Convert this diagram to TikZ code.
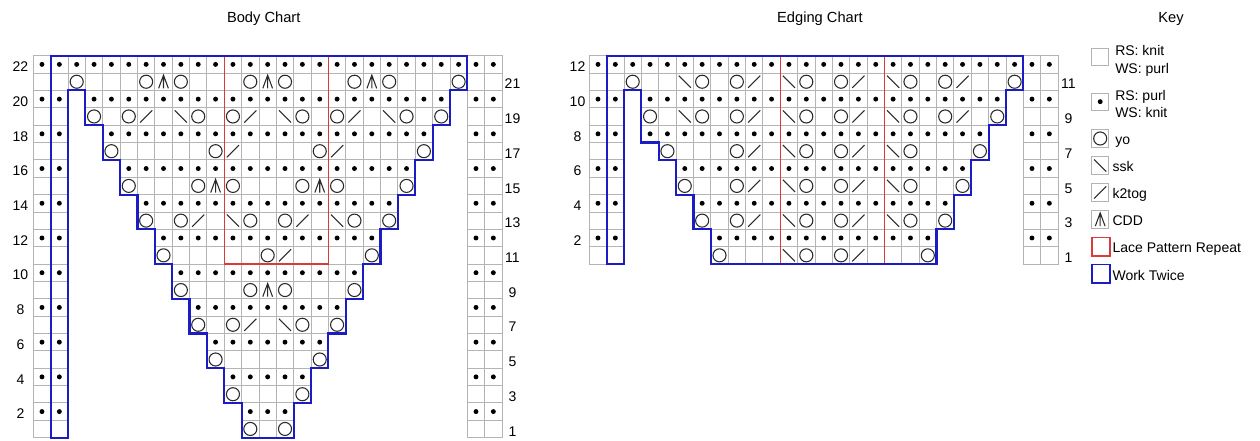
\documentclass[tikz,border=0pt]{standalone}
\usepackage{fontspec}
\setmainfont{Liberation Sans}
\definecolor{gridc}{HTML}{B4B4B4}
\definecolor{symc}{HTML}{2A2A2A}
\definecolor{bluec}{HTML}{1C1CC4}
\definecolor{redc}{HTML}{D93A3A}
\tikzset{
  gridline/.style={draw=gridc, line width=0.65pt},
  symline/.style={draw=symc, line width=0.8pt},
  blueline/.style={draw=bluec, line width=1.6pt, line join=miter},
  redline/.style={draw=redc, line width=0.9pt},
  lab/.style={font=\fontsize{10.5}{12}\selectfont, inner sep=0pt, text=black},
  titlelab/.style={font=\fontsize{11}{13}\selectfont, inner sep=0pt, text=black},
  cellunits/.style={x=13.02pt, y=-13.02pt},
}
\def\NR{22}
\newcommand\kcell[2]{\draw[gridline] ({#1-1},{\NR-#2}) rectangle ({#1},{\NR+1-#2});}
\newcommand\kdot[2]{\fill[black] ({#1-0.5},{\NR+0.5-#2}) circle[radius=1.85pt];}
\newcommand\kyo[2]{\draw[symline] ({#1-0.5},{\NR+0.5-#2}) circle[radius=4.9pt];}
\newcommand\kssk[2]{\draw[symline] ({#1-0.85},{\NR+0.15-#2}) -- ({#1-0.15},{\NR+0.85-#2});}
\newcommand\kktog[2]{\draw[symline] ({#1-0.85},{\NR+0.85-#2}) -- ({#1-0.15},{\NR+0.15-#2});}
\newcommand\kcdd[2]{\draw[symline] ({#1-0.78},{\NR+0.88-#2}) -- ({#1-0.5},{\NR+0.12-#2}) -- ({#1-0.22},{\NR+0.88-#2}) ({#1-0.5},{\NR+0.12-#2}) -- ({#1-0.5},{\NR+0.88-#2});}
\let\ksymy\kyo
\let\ksyms\kssk
\let\ksymk\kktog
\let\ksymc\kcdd
\newcommand\ksym[3]{\csname ksym#3\endcsname{#1}{#2}}
\begin{document}
\begin{tikzpicture}[x=0.75pt, y=-0.75pt]
\useasboundingbox (0,0) rectangle (1260,440);
\fill[white] (0,0) rectangle (1260,440);

% titles
\node[titlelab, anchor=base] (tbody) at (263.7,22.7) {Body Chart};
\node[titlelab, anchor=base] (tedge) at (820,22.7) {Edging Chart};
\node[titlelab, anchor=base] (tkey) at (1171,22.7) {Key};

% ================= BODY CHART =================
\begin{scope}[shift={(33.3,55.7)}, cellunits]
\def\NR{22}
\foreach \r in {1,...,22}{
  \pgfmathtruncatemacro\k{min(11,int((\r+1)/2))}
  \pgfmathtruncatemacro\L{14-\k}
  \pgfmathtruncatemacro\R{14+\k}
  \foreach \c in {1,2,26,27}{\kcell{\c}{\r}}
  \foreach \c in {\L,...,\R}{\kcell{\c}{\r}}
  \ifodd\r\relax\else
    \foreach \c in {1,2,26,27}{\kdot{\c}{\r}}
    \foreach \c in {\L,...,\R}{\kdot{\c}{\r}}
  \fi
}
\foreach \c/\t in {3/y,7/y,8/c,9/y,13/y,14/c,15/y,19/y,20/c,21/y,25/y}{\ksym{\c}{21}{\t}}
\foreach \c/\t in {4/y,6/y,7/k,9/s,10/y,12/y,13/k,15/s,16/y,18/y,19/k,21/s,22/y,24/y}{\ksym{\c}{19}{\t}}
\foreach \c/\t in {5/y,11/y,12/k,17/y,18/k,23/y}{\ksym{\c}{17}{\t}}
\foreach \c/\t in {6/y,10/y,11/c,12/y,16/y,17/c,18/y,22/y}{\ksym{\c}{15}{\t}}
\foreach \c/\t in {7/y,9/y,10/k,12/s,13/y,15/y,16/k,18/s,19/y,21/y}{\ksym{\c}{13}{\t}}
\foreach \c/\t in {8/y,14/y,15/k,20/y}{\ksym{\c}{11}{\t}}
\foreach \c/\t in {9/y,13/y,14/c,15/y,19/y}{\ksym{\c}{9}{\t}}
\foreach \c/\t in {10/y,12/y,13/k,15/s,16/y,18/y}{\ksym{\c}{7}{\t}}
\foreach \c/\t in {11/y,17/y}{\ksym{\c}{5}{\t}}
\foreach \c/\t in {12/y,16/y}{\ksym{\c}{3}{\t}}
\foreach \c/\t in {13/y,15/y}{\ksym{\c}{1}{\t}}
\draw[redline] (11,0) rectangle (17,12);
\draw[blueline] (1,22) -- (1,0) -- (25,0) -- (25,2) -- (24,2) -- (24,4) -- (23,4) -- (23,6) -- (22,6) -- (22,8) -- (21,8) -- (21,10) -- (20,10) -- (20,12) -- (19,12) -- (19,14) -- (18,14) -- (18,16) -- (17,16) -- (17,18) -- (16,18) -- (16,20) -- (15,20) -- (15,22) -- (12,22) -- (12,20) -- (11,20) -- (11,18) -- (10,18) -- (10,16) -- (9,16) -- (9,14) -- (8,14) -- (8,12) -- (7,12) -- (7,10) -- (6,10) -- (6,8) -- (5,8) -- (5,6) -- (4,6) -- (4,4) -- (3,4) -- (3,2) -- (2,2) -- (2,22) -- cycle;
\end{scope}
\foreach \r in {2,4,...,22}{\node[lab, anchor=base] (bl\r) at (20.5,{55.7+(22.5-\r)*17.36+7.2}) {\r};}
\foreach \r in {1,3,...,21}{\node[lab, anchor=base] (br\r) at (512.5,{55.7+(22.5-\r)*17.36+7.2}) {\r};}

% ================= EDGING CHART =================
\begin{scope}[shift={(589.3,55.7)}, cellunits]
\def\NR{12}
\foreach \r/\L/\R in {12/3/25,11/3/25,10/4/24,9/4/24,8/4/23,7/5/23,6/6/22,5/6/22,4/7/21,3/7/21,2/8/20,1/8/20}{
  \foreach \c in {1,2,26,27}{\kcell{\c}{\r}}
  \foreach \c in {\L,...,\R}{\kcell{\c}{\r}}
  \ifodd\r\relax\else
    \foreach \c in {1,2,26,27}{\kdot{\c}{\r}}
    \foreach \c in {\L,...,\R}{\kdot{\c}{\r}}
  \fi
}
\foreach \c/\t in {3/y,6/s,7/y,9/y,10/k,12/s,13/y,15/y,16/k,18/s,19/y,21/y,22/k,25/y}{\ksym{\c}{11}{\t}}
\foreach \c/\t in {4/y,6/s,7/y,9/y,10/k,12/s,13/y,15/y,16/k,18/s,19/y,21/y,22/k,24/y}{\ksym{\c}{9}{\t}}
\foreach \c/\t in {5/y,9/y,10/k,12/s,13/y,15/y,16/k,18/s,19/y,23/y}{\ksym{\c}{7}{\t}}
\foreach \c/\t in {6/y,9/y,10/k,12/s,13/y,15/y,16/k,18/s,19/y,22/y}{\ksym{\c}{5}{\t}}
\foreach \c/\t in {7/y,9/y,10/k,12/s,13/y,15/y,16/k,18/s,19/y,21/y}{\ksym{\c}{3}{\t}}
\foreach \c/\t in {8/y,12/s,13/y,15/y,16/k,20/y}{\ksym{\c}{1}{\t}}
\draw[redline] (11,0) rectangle (17,12);
\draw[blueline] (1,12) -- (1,0) -- (25,0) -- (25,2) -- (24,2) -- (24,4) -- (23,4) -- (23,6) -- (22,6) -- (22,8) -- (21,8) -- (21,10) -- (20,10) -- (20,12) -- (7,12) -- (7,10) -- (6,10) -- (6,8) -- (5,8) -- (5,6) -- (4,6) -- (4,5) -- (3,5) -- (3,2) -- (2,2) -- (2,12) -- cycle;
\end{scope}
\foreach \r in {2,4,...,12}{\node[lab, anchor=base] (el\r) at (577.5,{55.7+(12.5-\r)*17.36+7.2}) {\r};}
\foreach \r in {1,3,...,11}{\node[lab, anchor=base] (er\r) at (1068.5,{55.7+(12.5-\r)*17.36+7.2}) {\r};}

% ================= KEY =================
\def\NR{1}
\begin{scope}[shift={(1091.5,48)}, cellunits]
\kcell{1}{1}
\end{scope}
\begin{scope}[shift={(1091.5,93)}, cellunits]
\kcell{1}{1}\kdot{1}{1}
\end{scope}
\begin{scope}[shift={(1091.5,129.8)}, cellunits]
\kcell{1}{1}\kyo{1}{1}
\end{scope}
\begin{scope}[shift={(1091.5,156.8)}, cellunits]
\kcell{1}{1}\kssk{1}{1}
\end{scope}
\begin{scope}[shift={(1091.5,183.8)}, cellunits]
\kcell{1}{1}\kktog{1}{1}
\end{scope}
\begin{scope}[shift={(1091.5,210.8)}, cellunits]
\kcell{1}{1}\kcdd{1}{1}
\end{scope}
\draw[redc, line width=1.1pt] (1092,237.5) rectangle (1110,256);
\draw[bluec, line width=1.4pt] (1092,264.5) rectangle (1110,283);

\node[lab, anchor=base west] (k1a) at (1115,55) {RS: knit};
\node[lab, anchor=base west] (k1b) at (1115,73.3) {WS: purl};
\node[lab, anchor=base west] (k2a) at (1115,100.5) {RS: purl};
\node[lab, anchor=base west] (k2b) at (1115,117.5) {WS: knit};
\node[lab, anchor=base west] (k3) at (1115,144.5) {yo};
\node[lab, anchor=base west] (k4) at (1112.3,171.5) {ssk};
\node[lab, anchor=base west] (k5) at (1112.3,198.5) {k2tog};
\node[lab, anchor=base west] (k6) at (1112.3,225.3) {CDD};
\node[lab, anchor=base west] (k7) at (1112.3,252.8) {Lace Pattern Repeat};
\node[lab, anchor=base west] (k8) at (1112.3,280.5) {Work Twice};
\end{tikzpicture}
\end{document}
